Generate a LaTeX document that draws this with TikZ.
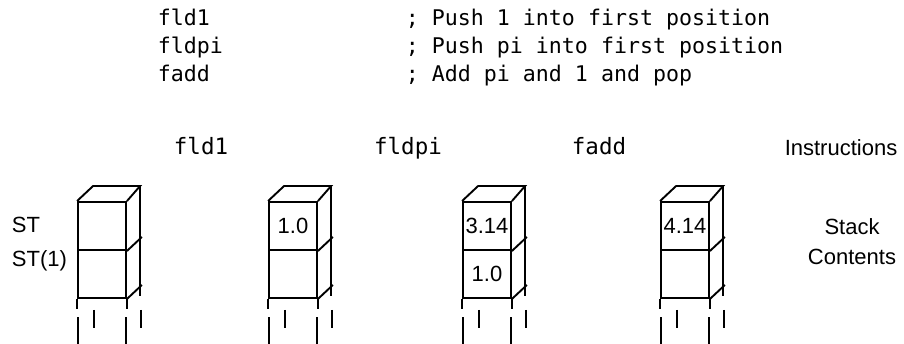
\documentclass[tikz,border=0pt]{standalone}
\usepackage{fontspec}
\setmainfont{Liberation Sans}
\newfontfamily\codefont{DejaVu Sans Mono}

\begin{document}
\begin{tikzpicture}[x=1pt, y=-1pt, line width=1.9pt,
    cell/.style={draw, minimum width=48pt, minimum height=48pt, inner sep=0pt,
        font=\fontsize{22}{24}\selectfont},
    lbl/.style={font=\fontsize{22}{24}\selectfont, inner sep=0pt},
    code/.style={font=\codefont\fontsize{21.6}{24}\selectfont, inner sep=0pt, anchor=base west},
    instr/.style={font=\codefont\fontsize{22.5}{26}\selectfont, inner sep=0pt, anchor=base}]

    % --- Page frame (pixel coordinates, y grows downwards) ---
    \useasboundingbox (0,0) rectangle (904,344);

    % --- Program listing ---
    \node[code] (op1) at (157,26) {fld1};
    \node[code] (op2) at (157,54) {fldpi};
    \node[code] (op3) at (157,82) {fadd};
    \node[code] (cm1) at (405,26) {; Push 1 into first position};
    \node[code] (cm2) at (405,54) {; Push pi into first position};
    \node[code] (cm3) at (405,82) {; Add pi and 1 and pop};

    % --- Instruction row ---
    \node[instr] (in1) at (201,155) {fld1};
    \node[instr] (in2) at (408,155) {fldpi};
    \node[instr] (in3) at (599,155) {fadd};
    \node[lbl, anchor=base] (instr) at (841,156) {Instructions};

    % --- Register names ---
    \node[lbl, anchor=base west] (st0) at (11,233) {ST};
    \node[lbl, anchor=base west] (st1) at (11,267) {ST(1)};

    % --- Stacks: front faces carry the values ---
    \foreach \name/\x/\va/\vb in {sa/78/{}/{}, sb/269/1.0/{}, sc/463/3.14/1.0, sd/661/4.14/{}} {
        \node[cell] (\name-top) at (\x+24,226) {\va};
        \node[cell] (\name-bot) at (\x+24,274) {\vb};
        % top face and back edge
        \draw (\name-top.north west) -- ++(16,-15) -- ++(47,0) coordinate (\name-back)
            -- (\name-top.north east);
        \draw (\name-back) -- ++(0,110);
        % depth edges
        \draw (\name-top.south east) -- ++(15,-14);
        \draw (\name-bot.south east) -- ++(15,-14);
        % stack goes on below
        \draw (\name-bot.south west) -- ++(0,10);
        \draw (\name-bot.south east) -- ++(0,10);
        \draw (\x,317) -- (\x,344);
        \draw (\x+48,317) -- (\x+48,344);
        \draw (\x+16,310) -- (\x+16,328);
        \draw (\x+63,310) -- (\x+63,328);
    }

    % --- Stack legend ---
    \node[lbl, anchor=base] (stk) at (852,235) {Stack};
    \node[lbl, anchor=base] (cnt) at (852,265) {Contents};

\end{tikzpicture}
\end{document}
